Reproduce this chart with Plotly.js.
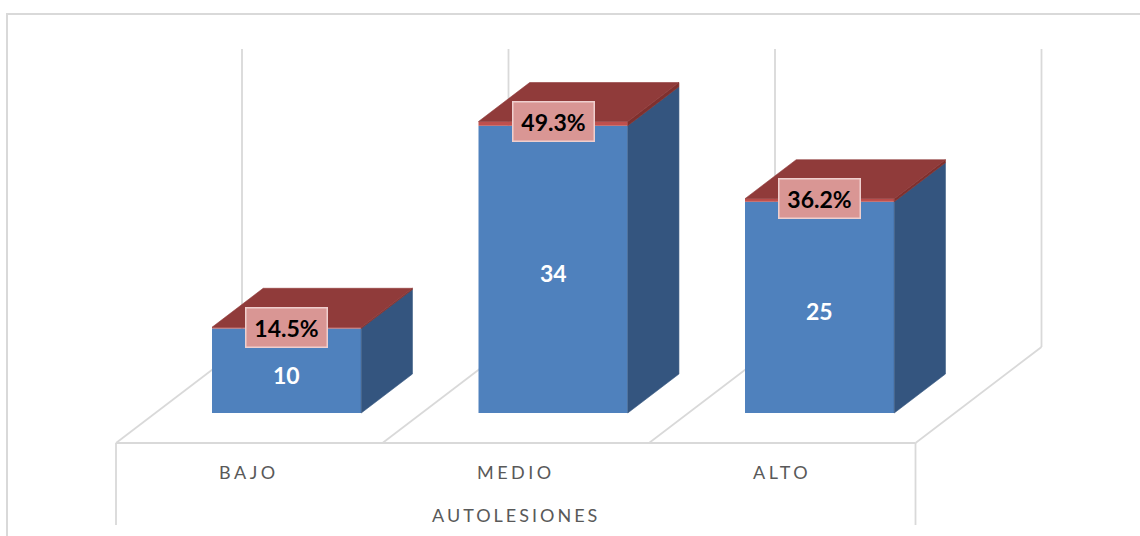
<!DOCTYPE html>
<html>
<head>
<meta charset="utf-8">
<script src="https://cdn.plot.ly/plotly-3.0.1.min.js"></script>
<style>
  html, body { margin: 0; padding: 0; background: #ffffff; }
  #chart { width: 1140px; height: 536px; }
</style>
</head>
<body>
<div id="chart"></div>
<script>
// ---- data ----
const categories = ['BAJO', 'MEDIO', 'ALTO'];
const counts = [10, 34, 25];
const percents = [14.5, 49.3, 36.2];
const axisTitle = 'AUTOLESIONES';

// ---- style / projection constants ----
const W = 1140, H = 536;
const PX_X = 266.5;          // px per category
const PX_Y = 8.45;           // px per value unit
const ORIGIN_PX = 116, ORIGIN_PY = 443;  // front-left corner of the floor
const DEPTH_DX = 126 / PX_X; // full floor depth, in category units
const DEPTH_DY = 96 / PX_Y;  // full floor depth, in value units
const BAR_W = 0.56;
const BAR_SHIFT = -2 / PX_X;
const T0 = 0.3125, T1 = 0.7188; // bar depth span (fraction of floor depth)
const WALL_TOP = 35.27;
const FRONT_DROP = -(525 - ORIGIN_PY) / PX_Y;
const GRID = '#D9D9D9';
const FONT = 'Lato, "Open Sans", sans-serif';

const n = categories.length;
const xIdx = categories.map((_, i) => i);
const redVals = percents.map(p => p / 100);
const pctLabels = percents.map(p => p.toFixed(1) + '%');

function proj(X, v, t) { return [X + BAR_SHIFT * 0 + t * DEPTH_DX, v + t * DEPTH_DY]; }

const xRange = [-0.5 - ORIGIN_PX / PX_X, -0.5 + (W - ORIGIN_PX) / PX_X];
const yRange = [-(H - ORIGIN_PY) / PX_Y, ORIGIN_PY / PX_Y];

const baseOff = T0 * DEPTH_DY;
const offX = -BAR_W / 2 + T0 * DEPTH_DX + BAR_SHIFT;

const traces = [];
// front faces (bars)
traces.push({
  type: 'bar', x: xIdx, y: counts, base: counts.map(() => baseOff),
  width: BAR_W, offset: offX,
  marker: { color: '#4F81BD', line: { width: 0 } },
  hoverinfo: 'skip', showlegend: false
});
traces.push({
  type: 'bar', x: xIdx, y: redVals, base: counts.map(c => c + baseOff),
  width: BAR_W, offset: offX,
  marker: { color: '#C0504D', line: { width: 0 } },
  hoverinfo: 'skip', showlegend: false
});

function facePoly(pointsList) {
  const xs = [], ys = [];
  pointsList.forEach(pts => {
    pts.forEach(p => { xs.push(p[0]); ys.push(p[1]); });
    xs.push(pts[0][0]); ys.push(pts[0][1]);
    xs.push(null); ys.push(null);
  });
  return { xs, ys };
}
function faceTrace(pointsList, color) {
  const f = facePoly(pointsList);
  return {
    type: 'scatter', mode: 'lines', x: f.xs, y: f.ys, fill: 'toself',
    fillcolor: color, line: { color: color, width: 0.6 },
    hoverinfo: 'skip', showlegend: false
  };
}
// side faces (blue part)
traces.push(faceTrace(xIdx.map((c, i) => {
  const xr = c + BAR_SHIFT + BAR_W / 2;
  return [proj(xr, 0, T0), proj(xr, 0, T1), proj(xr, counts[i], T1), proj(xr, counts[i], T0)];
}), '#34557F'));
// side faces (red part)
traces.push(faceTrace(xIdx.map((c, i) => {
  const xr = c + BAR_SHIFT + BAR_W / 2;
  const v0 = counts[i], v1 = counts[i] + redVals[i];
  return [proj(xr, v0, T0), proj(xr, v0, T1), proj(xr, v1, T1), proj(xr, v1, T0)];
}), '#7F302E'));
// top faces
traces.push(faceTrace(xIdx.map((c, i) => {
  const xl = c + BAR_SHIFT - BAR_W / 2, xr = c + BAR_SHIFT + BAR_W / 2;
  const v = counts[i] + redVals[i];
  return [proj(xl, v, T0), proj(xr, v, T0), proj(xr, v, T1), proj(xl, v, T1)];
}), '#903B3A'));

// grid / floor / walls as shapes below traces
const shapes = [];
function seg(p, q) {
  shapes.push({ type: 'line', xref: 'x', yref: 'y', layer: 'below',
    x0: p[0], y0: p[1], x1: q[0], y1: q[1], line: { color: GRID, width: 1.8 } });
}
for (let k = 0; k <= n; k++) {
  const X = -0.5 + k;
  seg(proj(X, 0, 0), proj(X, 0, 1));
  seg(proj(X, 0, 1), proj(X, WALL_TOP, 1));
}
seg(proj(-0.5, 0, 0), proj(n - 0.5, 0, 0));
seg(proj(-0.5, 0, 0), proj(-0.5, FRONT_DROP, 0));
seg(proj(n - 0.5, 0, 0), proj(n - 0.5, FRONT_DROP, 0));
// chart area border
shapes.push({ type: 'rect', xref: 'paper', yref: 'paper', layer: 'below',
  x0: 7 / W, x1: 1.02, y0: -0.02, y1: 1 - 14 / H,
  line: { color: GRID, width: 2 }, fillcolor: 'rgba(0,0,0,0)' });

const annotations = [];
xIdx.forEach((c, i) => {
  const p = proj(c + BAR_SHIFT, counts[i] + redVals[i], T0);
  annotations.push({
    x: p[0], y: p[1], xref: 'x', yref: 'y', showarrow: false,
    text: '<b>' + pctLabels[i] + '</b>',
    font: { family: FONT, size: 23, color: '#000000' },
    bgcolor: '#D99694', bordercolor: '#EFCFCE', borderwidth: 1.5,
    width: 78, height: 36, borderpad: 1, xanchor: 'center', yanchor: 'middle'
  });
  const m = proj(c + BAR_SHIFT, counts[i] / 2, T0);
  annotations.push({
    x: m[0], y: m[1], xref: 'x', yref: 'y', showarrow: false, yshift: -4,
    text: '<b>' + counts[i] + '</b>',
    font: { family: FONT, size: 23, color: '#FFFFFF' },
    xanchor: 'center', yanchor: 'middle'
  });
  annotations.push({
    x: c, y: -29 / PX_Y, xref: 'x', yref: 'y', showarrow: false,
    text: '<span style="letter-spacing:3.5px">' + categories[i] + '</span>',
    font: { family: FONT, size: 18, color: '#595959' },
    xanchor: 'center', yanchor: 'middle'
  });
});
annotations.push({
  x: (n - 1) / 2, y: -72 / PX_Y, xref: 'x', yref: 'y', showarrow: false,
  text: '<span style="letter-spacing:3px">' + axisTitle + '</span>',
  font: { family: FONT, size: 18, color: '#595959' },
  xanchor: 'center', yanchor: 'middle'
});

const layout = {
  width: W, height: H,
  margin: { l: 0, r: 0, t: 0, b: 0, pad: 0 },
  paper_bgcolor: '#FFFFFF', plot_bgcolor: '#FFFFFF',
  barmode: 'overlay',
  xaxis: { range: xRange, visible: false, fixedrange: true },
  yaxis: { range: yRange, visible: false, fixedrange: true },
  shapes: shapes, annotations: annotations,
  hovermode: false, showlegend: false
};

Plotly.newPlot('chart', traces, layout, { displayModeBar: false, staticPlot: true });
</script>
</body>
</html>
